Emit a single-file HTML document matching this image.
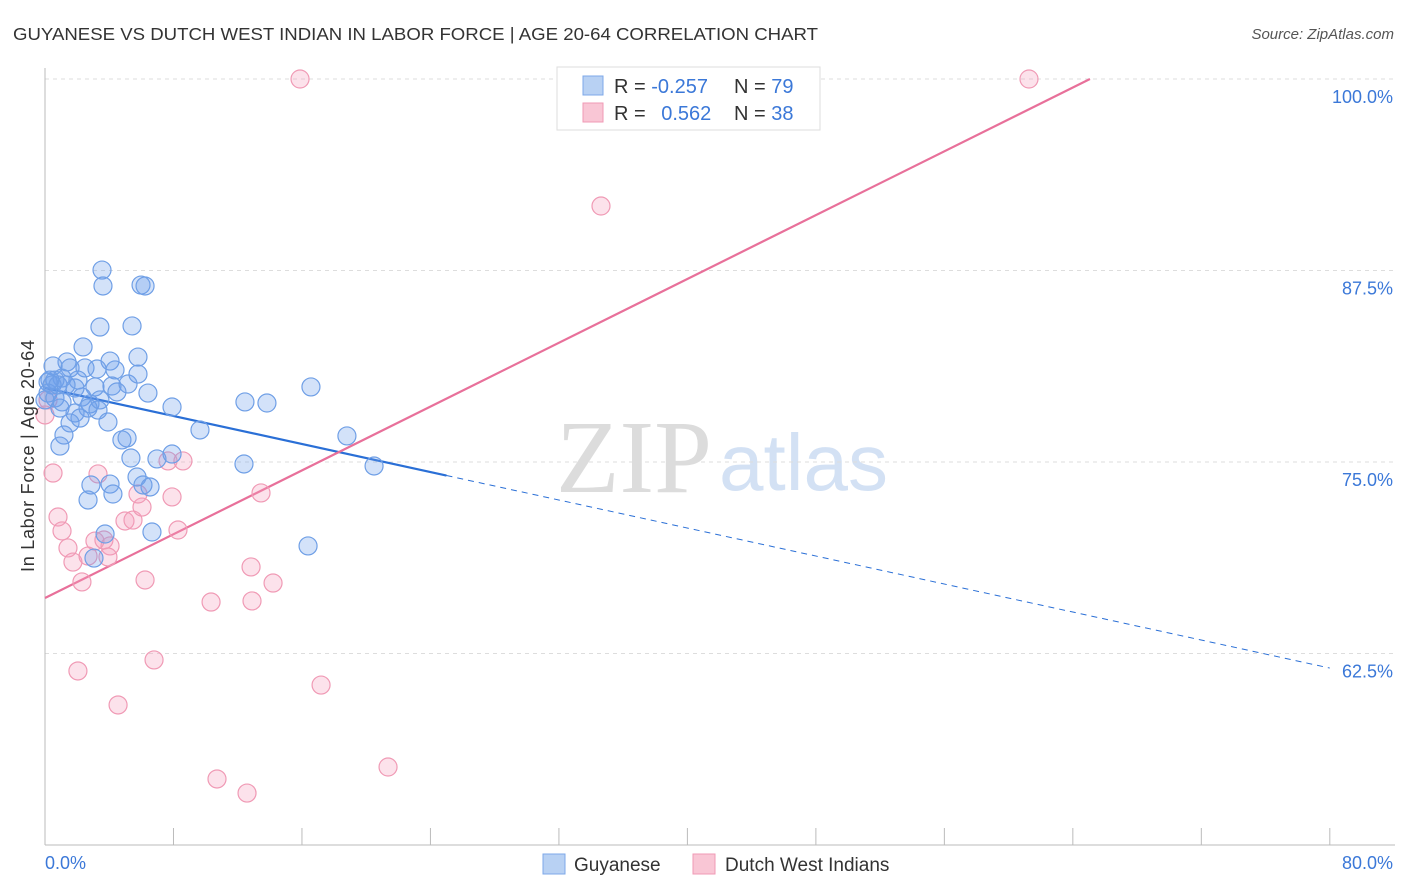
<!DOCTYPE html>
<html><head><meta charset="utf-8"><style>
body{margin:0;background:#fff;font-family:"Liberation Sans",sans-serif;}
#wrap{position:relative;width:1406px;height:892px;overflow:hidden;}
</style></head><body>
<div id="wrap">
<svg id="svg" width="1406" height="892" xmlns="http://www.w3.org/2000/svg">
<text x="13" y="40" font-size="17.5" fill="#333" textLength="805" lengthAdjust="spacingAndGlyphs">GUYANESE VS DUTCH WEST INDIAN IN LABOR FORCE | AGE 20-64 CORRELATION CHART</text>
<text x="1394" y="39" font-size="15" fill="#555" font-style="italic" text-anchor="end">Source: ZipAtlas.com</text>
<text x="712" y="492" font-size="104" fill="#dcdcdc" text-anchor="end" font-family="Liberation Serif,serif">ZIP</text>
<text x="719" y="490" font-size="80" fill="#d3e1f4">atlas</text>
<g id="grid"></g><g id="axes"></g><g id="trend"></g><g id="pts"></g>
<text x="0" y="0" font-size="18" fill="#333" text-anchor="middle" transform="translate(34 456) rotate(-90)" textLength="232">In Labor Force | Age 20-64</text>
<text x="45" y="869" font-size="18" fill="#3b78d8">0.0%</text>
<text x="1393" y="869" font-size="18" fill="#3b78d8" text-anchor="end">80.0%</text>
<g>
<rect x="557" y="67" width="263" height="63" fill="#fff" stroke="#ddd"/>
<rect x="583" y="76" width="20" height="19" fill="#b8d1f3" stroke="#7ea8e8"/>
<rect x="583" y="103" width="20" height="19" fill="#f9c6d5" stroke="#f09ab5"/>
<text x="614" y="93" font-size="20" fill="#333">R = <tspan fill="#3b78d8">-0.257</tspan></text>
<text x="734" y="93" font-size="20" fill="#333">N = <tspan fill="#3b78d8">79</tspan></text>
<text x="614" y="120" font-size="20" fill="#333">R = <tspan fill="#3b78d8" dx="10">0.562</tspan></text>
<text x="734" y="120" font-size="20" fill="#333">N = <tspan fill="#3b78d8">38</tspan></text>
</g>
<g>
<rect x="543" y="854" width="22" height="20" fill="#b8d1f3" stroke="#7ea8e8"/>
<text x="574" y="871" font-size="19" fill="#333">Guyanese</text>
<rect x="693" y="854" width="22" height="20" fill="#f9c6d5" stroke="#f09ab5"/>
<text x="725" y="871" font-size="19" fill="#333">Dutch West Indians</text>
</g>
</svg></div>
<script>
const yTicks=[100,87.5,75,62.5];
const yTickLabels=["100.0%","87.5%","75.0%","62.5%"];
const xTicks=[0,8,16,24,32,40,48,56,64,72,80];
const blueX=[3.55,3.61,5.98,6.23,3.42,5.42,2.37,1.37,4.05,5.79,0.5,1.56,2.49,3.24,4.36,0.62,1.06,0.19,0.44,2.05,3.11,4.17,5.17,5.79,6.41,4.48,1.87,0.19,0.62,1.06,2.3,2.8,3.3,0.93,1.87,3.92,1.56,1.18,0.93,4.79,5.11,7.91,9.65,12.45,13.82,16.56,18.8,6.97,5.35,12.39,20.49,7.91,2.86,4.05,5.73,6.54,2.68,4.23,6.1,3.74,6.66,3.05,16.38,0.31,0.81,0,2.68,2.18,1.31,3.42];
const blueY=[87.53,86.49,86.55,86.49,83.81,83.88,82.51,81.53,81.59,81.85,81.27,81.14,81.14,81.07,81.01,80.35,80.48,80.22,80.03,80.35,79.9,79.96,80.09,80.74,79.5,79.57,79.83,79.5,79.18,78.92,79.24,78.79,78.39,78.52,78.2,77.61,77.55,76.76,76.04,76.44,76.57,78.59,77.09,78.92,78.85,79.9,76.7,75.2,75.26,74.87,74.74,75.52,73.5,73.56,74.02,73.37,72.52,72.91,73.5,70.3,70.43,68.73,69.52,80.35,80.03,79.05,78.52,77.87,80.03,79.05];
const pinkX=[15.88,61.27,34.62,0.5,3.3,0.81,1.06,1.43,1.74,2.3,2.68,3.11,3.67,4.05,3.92,4.98,5.48,6.04,5.79,7.91,8.28,7.66,8.59,6.23,10.34,12.89,12.83,13.45,14.2,6.79,2.05,4.55,10.71,12.58,17.19,21.36,0,0.19];
const pinkY=[100,100,91.71,74.28,74.22,71.41,70.5,69.39,68.47,67.17,68.86,69.84,69.91,69.52,68.8,71.15,71.21,72.06,72.91,72.72,70.56,75.07,75.07,67.3,65.86,65.93,68.15,72.98,67.1,62.08,61.36,59.14,54.31,53.39,60.44,55.09,78.07,79.05];
const blueTrend=[79.83,61.55]; // y at x=0 and x=80
const blueSolidEnd=25;
const pinkTrend=[66.12,0.5207]; // intercept, slope
const X=v=>45+v*16.06, Y=v=>79+(100-v)*15.32;
const NS="http://www.w3.org/2000/svg";
function mk(tag,attrs,parent){const e=document.createElementNS(NS,tag);for(const k in attrs)e.setAttribute(k,attrs[k]);document.getElementById(parent).appendChild(e);return e;}
yTicks.forEach((t,i)=>{
 const g=mk('line',{x1:45,x2:1395,y1:Y(t),y2:Y(t),stroke:'#ddd','stroke-dasharray':'4,4'},'grid');
 
 
 const l=mk('text',{x:1393,y:Y(t)+24,'font-size':18,fill:'#3b78d8','text-anchor':'end'},'grid');
 l.textContent=yTickLabels[i];
 
 
});
let a=mk('line',{x1:45,x2:45,y1:68,y2:845,stroke:'#bbb'},'axes');


a=mk('line',{x1:45,x2:1395,y1:845,y2:845,stroke:'#bbb'},'axes');


xTicks.forEach(t=>{const e=mk('line',{x1:X(t),x2:X(t),y1:828,y2:845,stroke:'#bbb'},'axes');
 
 });
const by=x=>blueTrend[0]+(blueTrend[1]-blueTrend[0])*x/80;
let t=mk('line',{x1:X(0),y1:Y(by(0)),x2:X(blueSolidEnd),y2:Y(by(blueSolidEnd)),stroke:'#2a6fd6','stroke-width':2.2},'trend');


t=mk('line',{x1:X(blueSolidEnd),y1:Y(by(blueSolidEnd)),x2:X(80),y2:Y(by(80)),stroke:'#2a6fd6','stroke-width':1,'stroke-dasharray':'6,5'},'trend');


const pxEnd=(100-pinkTrend[0])/pinkTrend[1];
t=mk('line',{x1:X(0),y1:Y(pinkTrend[0]),x2:X(pxEnd),y2:Y(100),stroke:'#e8709a','stroke-width':2.2},'trend');


pinkX.forEach((x,i)=>{const c=mk('circle',{cx:X(x),cy:Y(pinkY[i]),r:9,fill:'rgba(245,160,190,0.3)',stroke:'#f09ab5','stroke-width':1.2},'pts');
 
 });
blueX.forEach((x,i)=>{const c=mk('circle',{cx:X(x),cy:Y(blueY[i]),r:9,fill:'rgba(110,160,235,0.3)',stroke:'#6f9fe6','stroke-width':1.2},'pts');
 
 });
</script>
</body></html>
